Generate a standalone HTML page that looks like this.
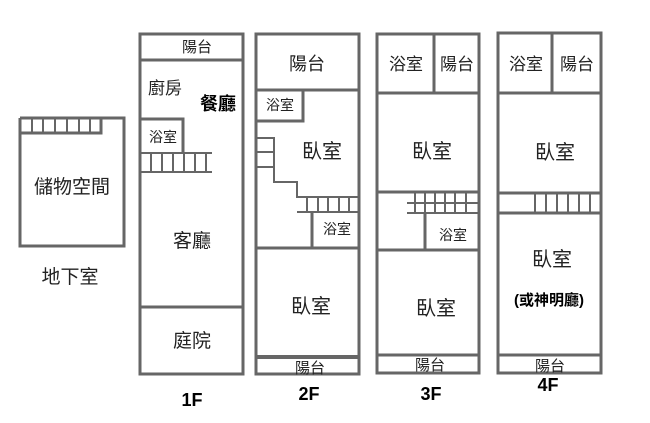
<!DOCTYPE html>
<html><head><meta charset="utf-8"><style>
html,body{margin:0;padding:0;background:#fff;}
svg{display:block;}
text{font-family:"Liberation Sans","Noto Sans CJK TC",sans-serif;fill:#222;text-anchor:middle;}
.b{font-weight:bold;fill:#000;}
</style></head><body>
<svg width="650" height="423" viewBox="0 0 650 423" xmlns="http://www.w3.org/2000/svg">
<g fill="none" stroke="#666" stroke-width="3">
<!-- Basement -->
<polyline points="20,118 124,118 124,246 20,246 20,118"/>
<polyline points="20,133 101,133 101,118"/>
<path d="M32,118V133M43,118V133M55,118V133M67,118V133M79,118V133M90,118V133" stroke-width="2"/>
<!-- 1F -->
<rect x="140" y="34" width="103" height="340"/>
<line x1="140" y1="60" x2="243" y2="60"/>
<polyline points="140,119 183,119 183,153"/>
<line x1="140" y1="153" x2="212" y2="153" stroke-width="2"/>
<line x1="140" y1="172" x2="212" y2="172" stroke-width="2"/>
<path d="M151,153V172M162,153V172M173,153V172M184,153V172M195,153V172M206,153V172" stroke-width="2"/>
<line x1="140" y1="307" x2="243" y2="307"/>
<!-- 2F -->
<rect x="256" y="34" width="103" height="340"/>
<line x1="256" y1="90" x2="359" y2="90"/>
<polyline points="256,121 303,121 303,90"/>
<polyline points="256,138 274,138 274,182 297,182 297,197 359,197" stroke-width="2"/>
<path d="M256,152H274M256,167H274" stroke-width="2"/>
<line x1="297" y1="212" x2="359" y2="212" stroke-width="2"/>
<path d="M307,197V212M318,197V212M328,197V212M339,197V212M349,197V212" stroke-width="2"/>
<polyline points="312,212 312,248"/>
<line x1="256" y1="248" x2="359" y2="248"/>
<line x1="256" y1="357" x2="359" y2="357" stroke-width="4"/>
<!-- 3F -->
<rect x="377" y="34" width="102" height="339"/>
<line x1="377" y1="93" x2="479" y2="93"/>
<line x1="434" y1="34" x2="434" y2="93"/>
<line x1="377" y1="192" x2="479" y2="192"/>
<line x1="407" y1="203" x2="479" y2="203" stroke-width="2"/>
<line x1="407" y1="213" x2="479" y2="213" stroke-width="2"/>
<path d="M415,192V213M425,192V213M435,192V213M445,192V213M455,192V213M466,192V213" stroke-width="2"/>
<polyline points="425,213 425,250"/>
<line x1="377" y1="250" x2="479" y2="250"/>
<line x1="377" y1="355" x2="479" y2="355" stroke-width="3"/>
<!-- 4F -->
<rect x="498" y="33" width="103" height="340"/>
<line x1="498" y1="93" x2="601" y2="93"/>
<line x1="552" y1="33" x2="552" y2="93"/>
<line x1="498" y1="193" x2="601" y2="193"/>
<line x1="498" y1="213" x2="601" y2="213"/>
<path d="M535,193V213M546,193V213M557,193V213M568,193V213M579,193V213M590,193V213" stroke-width="2"/>
<line x1="498" y1="355" x2="601" y2="355" stroke-width="3"/>
</g>
<rect x="195" y="92" width="45" height="22" fill="#fff"/>
<!-- text -->
<text x="72" y="193" font-size="19">儲物空間</text>
<text x="70" y="283" font-size="19">地下室</text>
<text x="197" y="52" font-size="15">陽台</text>
<text x="165" y="94" font-size="17">廚房</text>
<text class="b" x="218" y="110" font-size="18">餐廳</text>
<text x="163" y="142" font-size="14">浴室</text>
<text x="192" y="247" font-size="19">客廳</text>
<text x="192" y="347" font-size="19">庭院</text>
<text class="b" x="192" y="406" font-size="18">1F</text>
<text x="307" y="70" font-size="18">陽台</text>
<text x="280" y="110" font-size="14">浴室</text>
<text x="322" y="158" font-size="20">臥室</text>
<text x="337" y="234" font-size="14">浴室</text>
<text x="311" y="313" font-size="20">臥室</text>
<text x="310" y="373" font-size="15">陽台</text>
<text class="b" x="309" y="400" font-size="18">2F</text>
<text x="406" y="70" font-size="17">浴室</text>
<text x="457" y="70" font-size="17">陽台</text>
<text x="432" y="158" font-size="20">臥室</text>
<text x="453" y="240" font-size="14">浴室</text>
<text x="436" y="315" font-size="20">臥室</text>
<text x="430" y="370" font-size="15">陽台</text>
<text class="b" x="431" y="400" font-size="18">3F</text>
<text x="526" y="70" font-size="17">浴室</text>
<text x="577" y="70" font-size="17">陽台</text>
<text x="555" y="159" font-size="20">臥室</text>
<text x="552" y="266" font-size="20">臥室</text>
<text class="b" x="549" y="305" font-size="15">(或神明廳)</text>
<text x="550" y="371" font-size="15">陽台</text>
<text class="b" x="548" y="391" font-size="18">4F</text>
</svg>
</body></html>
